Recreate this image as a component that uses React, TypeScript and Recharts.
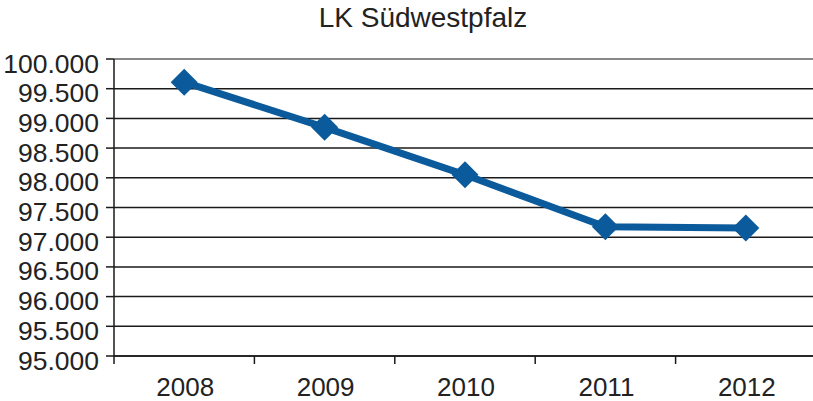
import { CartesianGrid, Line, LineChart, ReferenceLine, XAxis, YAxis } from 'recharts';

const title = 'LK Südwestpfalz';
const years = ['2008', '2009', '2010', '2011', '2012'];
const population = [99610, 98850, 98050, 97175, 97155];
const yTicks = [95000, 95500, 96000, 96500, 97000, 97500, 98000, 98500, 99000, 99500, 100000];

const BLUE = '#0b5a9b';
const INK = '#222';
const AXIS = '#1a1a1a';
const FONT = "'Liberation Sans', Arial, sans-serif";

const data = years.map((year, i) => ({ year, value: population[i] }));

const fmt = (v: number) => (v / 1000).toFixed(3);

function YTick({ x, y, payload }: any) {
  return (
    <text x={x} y={y + 4} dy="0.36em" textAnchor="end" fontSize={26.5} fill={INK} fontFamily={FONT}>
      {fmt(payload.value)}
    </text>
  );
}

// category label in the band centre, plus the tick mark on the band's left edge
function XTick({ x, y, payload }: any) {
  const half = payload.offset ?? 70;
  const edge = x - half;
  return (
    <g>
      <line x1={edge} y1={y} x2={edge} y2={y + 8} stroke={AXIS} strokeWidth={1.5} />
      <text x={x + 1} y={y + 40} textAnchor="middle" fontSize={26} fill={INK} fontFamily={FONT}>
        {payload.value}
      </text>
    </g>
  );
}

function Diamond({ cx, cy }: any) {
  if (cx == null || cy == null) return null;
  const r = 13.5;
  return <polygon points={`${cx},${cy - r} ${cx + r},${cy} ${cx},${cy + r} ${cx - r},${cy}`} fill={BLUE} />;
}

export default function App() {
  return (
    <div style={{ position: 'absolute', left: 0, top: 0, width: 813, height: 401, overflow: 'hidden', background: '#fff' }}>
      <div
        style={{
          position: 'absolute',
          left: 0,
          top: 4,
          width: 846,
          textAlign: 'center',
          fontFamily: FONT,
          fontSize: 28,
          lineHeight: '28px',
          color: INK,
        }}
      >
        {title}
      </div>
      <LineChart width={820} height={401} data={data} margin={{ top: 59, right: 4, bottom: 0, left: 0 }}>
        <CartesianGrid vertical={false} stroke={AXIS} strokeWidth={1.5} />
        <ReferenceLine y={100000} stroke="#9a9a9a" strokeWidth={1.5} />
        <XAxis
          dataKey="year"
          scale="band"
          height={45}
          tickSize={0}
          tickMargin={0}
          tickLine={false}
          axisLine={{ stroke: AXIS, strokeWidth: 1.5 }}
          tick={<XTick />}
          interval={0}
        />
        <YAxis
          width={114}
          domain={[95000, 100000]}
          ticks={yTicks}
          allowDataOverflow
          tickSize={8}
          tickMargin={7}
          tickLine={{ stroke: AXIS, strokeWidth: 1.5 }}
          axisLine={{ stroke: AXIS, strokeWidth: 1.5 }}
          tick={<YTick />}
          interval={0}
        />
        <Line
          type="linear"
          dataKey="value"
          stroke={BLUE}
          strokeWidth={7}
          dot={<Diamond />}
          activeDot={false}
          isAnimationActive={false}
        />
      </LineChart>
    </div>
  );
}
